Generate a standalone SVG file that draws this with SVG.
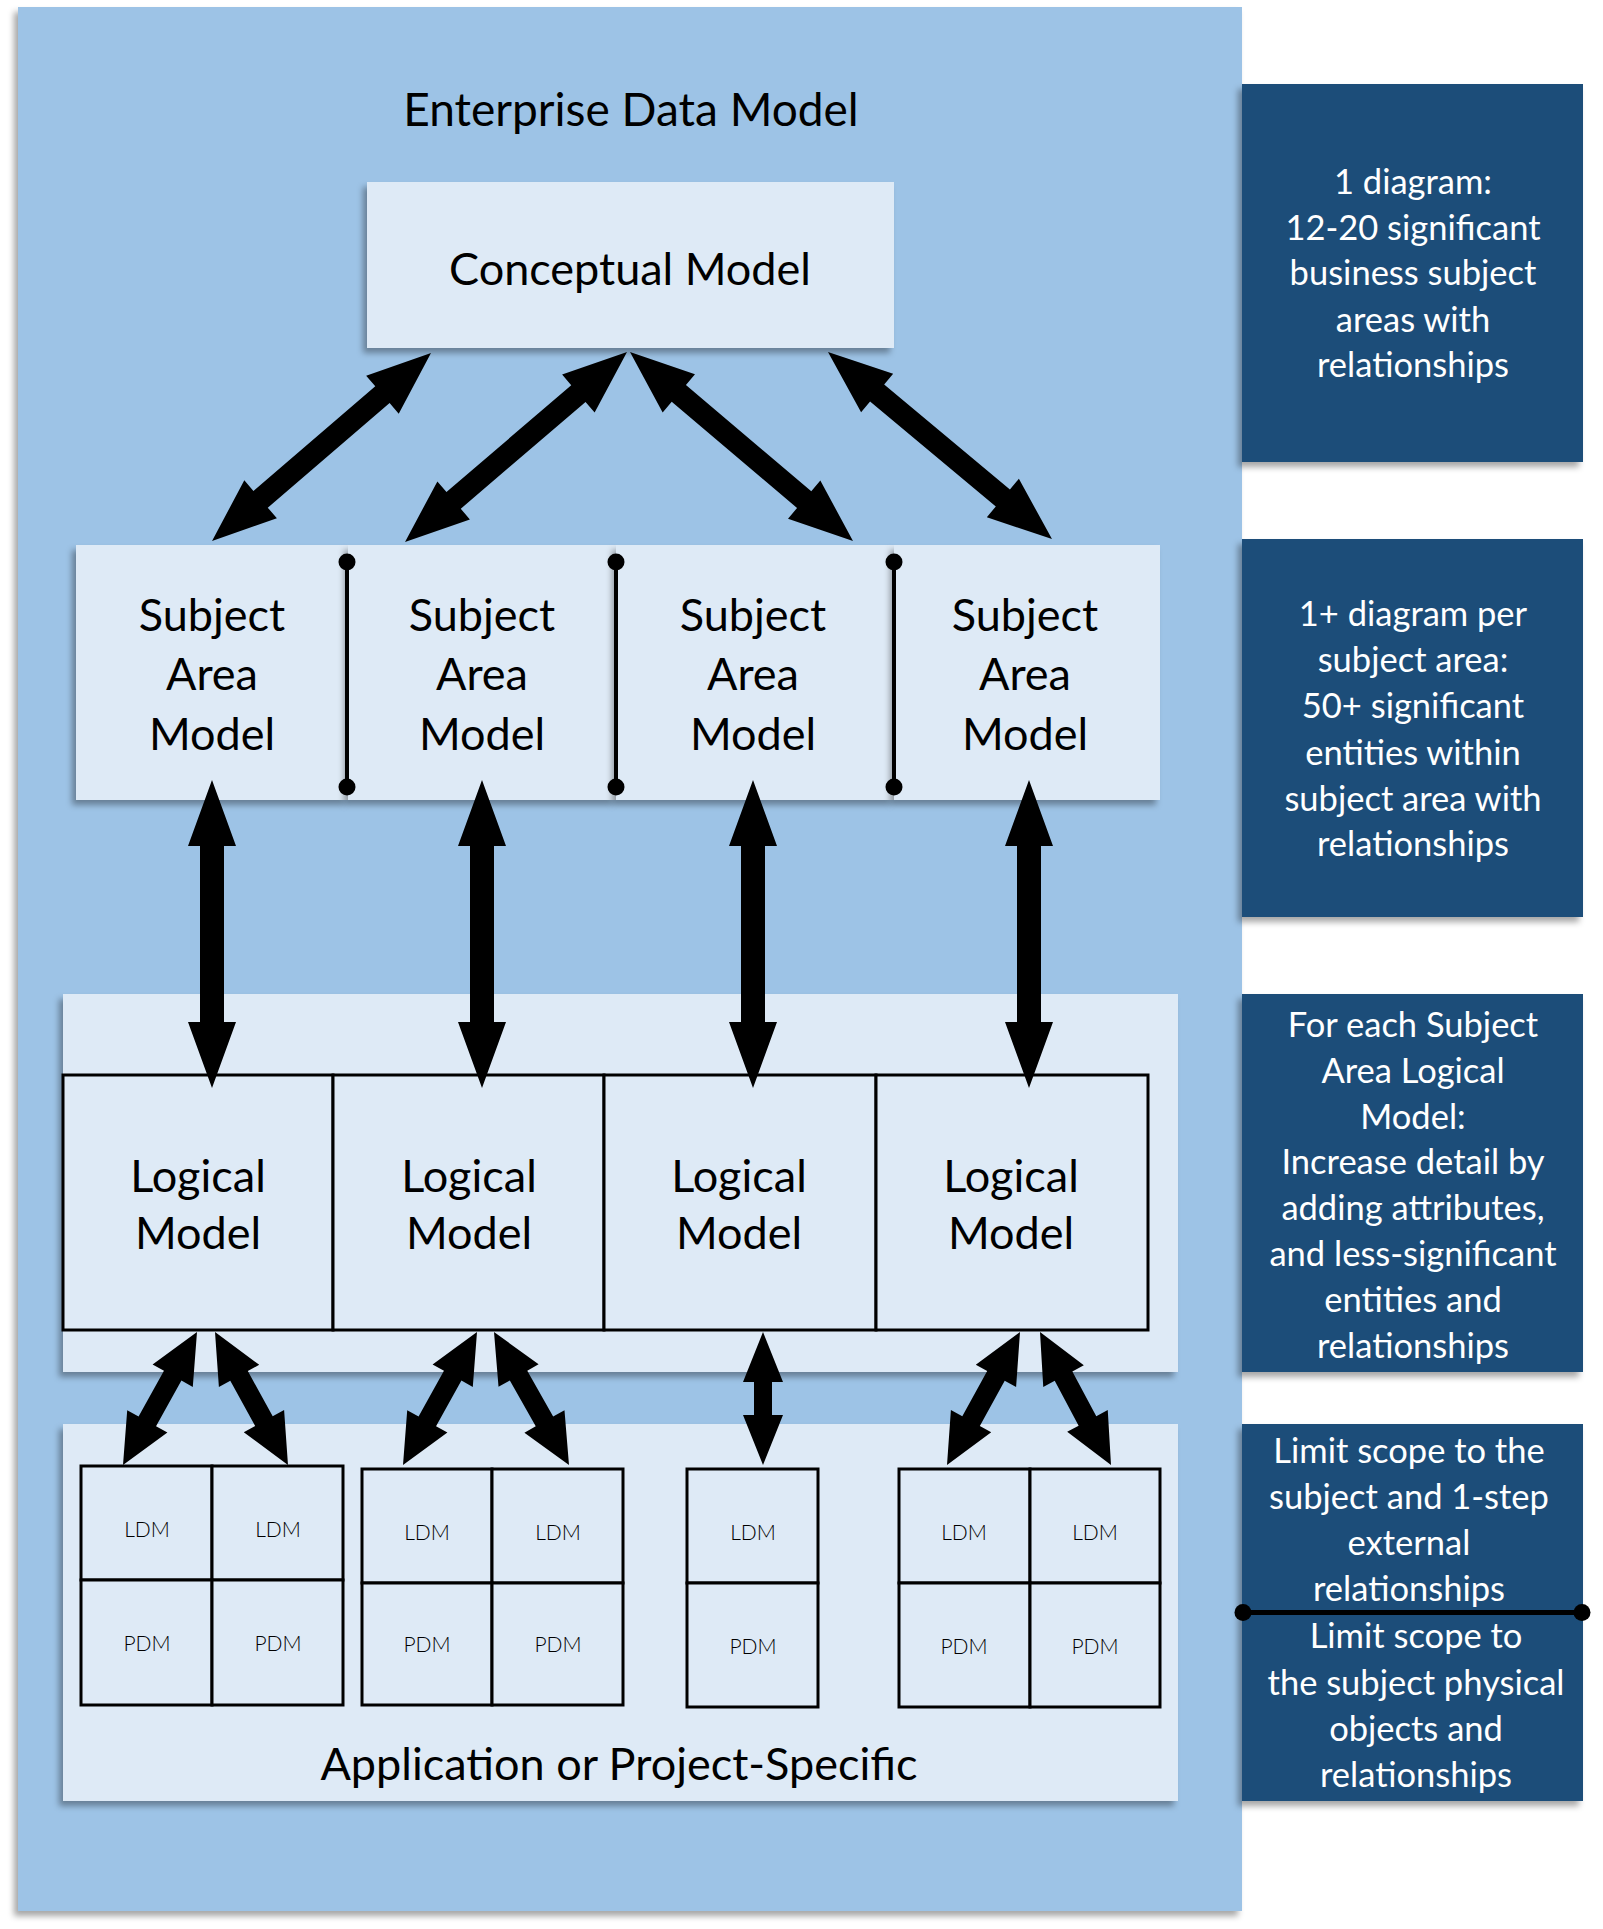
<svg xmlns="http://www.w3.org/2000/svg" width="1603" height="1929" viewBox="0 0 1603 1929">
<defs>
<filter id="sh" x="-10%" y="-10%" width="125%" height="130%">
<feDropShadow dx="-4" dy="5" stdDeviation="3" flood-color="#000" flood-opacity="0.35"/>
</filter>
<style>
.panel{fill:#9DC3E6}
.light{fill:#DEEAF6}
.box{fill:#DEEAF6;stroke:#000;stroke-width:3}
.note{fill:#1F4E79}
.t{font-family:Lato,"Liberation Sans",sans-serif;fill:#000;text-anchor:middle}
.big{font-size:46px}
.mid{font-size:45px}
.w{font-family:Lato,"Liberation Sans",sans-serif;fill:#fff;text-anchor:middle;font-size:34.5px}
.sm{font-family:Lato,"Liberation Sans",sans-serif;fill:#000;text-anchor:middle;font-size:21px;font-weight:300}
.div{stroke:#000;stroke-width:4}
.arr{fill:#000}
</style>
</defs>
<rect width="1603" height="1929" fill="#fff"/>

<g id="enterprise-panel">
<rect class="panel" x="18" y="7" width="1224" height="1904" filter="url(#sh)"/>
<text class="t big" x="631" y="126">Enterprise Data Model</text>
</g>

<g id="node-conceptual">
<rect class="light" x="367" y="182" width="527" height="166" filter="url(#sh)"/>
<text class="t" x="630" y="285" font-size="45">Conceptual Model</text>
</g>

<g id="node-subject-1">
<rect class="light" x="76" y="545" width="272" height="255" filter="url(#sh)"/>
<text class="t mid" x="212" y="631">Subject</text>
<text class="t mid" x="212" y="690">Area</text>
<text class="t mid" x="212" y="750">Model</text>
</g>
<g id="node-subject-2">
<rect class="light" x="348" y="545" width="268" height="255" filter="url(#sh)"/>
<text class="t mid" x="482" y="631">Subject</text>
<text class="t mid" x="482" y="690">Area</text>
<text class="t mid" x="482" y="750">Model</text>
</g>
<g id="node-subject-3">
<rect class="light" x="616" y="545" width="278" height="255" filter="url(#sh)"/>
<text class="t mid" x="753" y="631">Subject</text>
<text class="t mid" x="753" y="690">Area</text>
<text class="t mid" x="753" y="750">Model</text>
</g>
<g id="node-subject-4">
<rect class="light" x="894" y="545" width="266" height="255" filter="url(#sh)"/>
<text class="t mid" x="1025" y="631">Subject</text>
<text class="t mid" x="1025" y="690">Area</text>
<text class="t mid" x="1025" y="750">Model</text>
</g>
<g id="subject-dividers">
<line class="div" x1="347" y1="562" x2="347" y2="787"/>
<circle cx="347" cy="562" r="8.5"/><circle cx="347" cy="787" r="8.5"/>
<line class="div" x1="616" y1="562" x2="616" y2="787"/>
<circle cx="616" cy="562" r="8.5"/><circle cx="616" cy="787" r="8.5"/>
<line class="div" x1="894" y1="562" x2="894" y2="787"/>
<circle cx="894" cy="562" r="8.5"/><circle cx="894" cy="787" r="8.5"/>
</g>

<g id="logical-panel">
<rect class="light" x="63" y="994" width="1115" height="378" filter="url(#sh)"/>
</g>
<g id="node-logical-1">
<rect class="box" x="63" y="1075" width="270" height="255"/>
<text class="t mid" x="198" y="1192">Logical</text>
<text class="t mid" x="198" y="1249">Model</text>
</g>
<g id="node-logical-2">
<rect class="box" x="333" y="1075" width="271" height="255"/>
<text class="t mid" x="469" y="1192">Logical</text>
<text class="t mid" x="469" y="1249">Model</text>
</g>
<g id="node-logical-3">
<rect class="box" x="604" y="1075" width="272" height="255"/>
<text class="t mid" x="739" y="1192">Logical</text>
<text class="t mid" x="739" y="1249">Model</text>
</g>
<g id="node-logical-4">
<rect class="box" x="876" y="1075" width="272" height="255"/>
<text class="t mid" x="1011" y="1192">Logical</text>
<text class="t mid" x="1011" y="1249">Model</text>
</g>

<g id="application-panel">
<rect class="light" x="63" y="1424" width="1115" height="377" filter="url(#sh)"/>
<text class="t mid" x="619" y="1780">Application or Project-Specific</text>
</g>

<g id="grid-1">
<rect class="box" x="81" y="1466" width="131" height="114"/>
<rect class="box" x="212" y="1466" width="131" height="114"/>
<rect class="box" x="81" y="1580" width="131" height="125"/>
<rect class="box" x="212" y="1580" width="131" height="125"/>
<text class="sm" x="147" y="1537">LDM</text>
<text class="sm" x="278" y="1537">LDM</text>
<text class="sm" x="147" y="1651">PDM</text>
<text class="sm" x="278" y="1651">PDM</text>
</g>
<g id="grid-2">
<rect class="box" x="362" y="1469" width="130" height="114"/>
<rect class="box" x="492" y="1469" width="131" height="114"/>
<rect class="box" x="362" y="1583" width="130" height="122"/>
<rect class="box" x="492" y="1583" width="131" height="122"/>
<text class="sm" x="427" y="1540">LDM</text>
<text class="sm" x="558" y="1540">LDM</text>
<text class="sm" x="427" y="1652">PDM</text>
<text class="sm" x="558" y="1652">PDM</text>
</g>
<g id="grid-3">
<rect class="box" x="687" y="1469" width="131" height="114"/>
<rect class="box" x="687" y="1583" width="131" height="124"/>
<text class="sm" x="753" y="1540">LDM</text>
<text class="sm" x="753" y="1654">PDM</text>
</g>
<g id="grid-4">
<rect class="box" x="899" y="1469" width="131" height="114"/>
<rect class="box" x="1030" y="1469" width="130" height="114"/>
<rect class="box" x="899" y="1583" width="131" height="124"/>
<rect class="box" x="1030" y="1583" width="130" height="124"/>
<text class="sm" x="964" y="1540">LDM</text>
<text class="sm" x="1095" y="1540">LDM</text>
<text class="sm" x="964" y="1654">PDM</text>
<text class="sm" x="1095" y="1654">PDM</text>
</g>

<g id="note-1">
<rect class="note" x="1242" y="84" width="341" height="378" filter="url(#sh)"/>
<text class="w" x="1413" y="194">1 diagram:</text>
<text class="w" x="1413" y="240">12-20 significant</text>
<text class="w" x="1413" y="285">business subject</text>
<text class="w" x="1413" y="332">areas with</text>
<text class="w" x="1413" y="377">relationships</text>
</g>
<g id="note-2">
<rect class="note" x="1242" y="539" width="341" height="378" filter="url(#sh)"/>
<text class="w" x="1413" y="626">1+ diagram per</text>
<text class="w" x="1413" y="672">subject area:</text>
<text class="w" x="1413" y="718">50+ significant</text>
<text class="w" x="1413" y="765">entities within</text>
<text class="w" x="1413" y="811">subject area with</text>
<text class="w" x="1413" y="856">relationships</text>
</g>
<g id="note-3">
<rect class="note" x="1242" y="994" width="341" height="378" filter="url(#sh)"/>
<text class="w" x="1413" y="1037">For each Subject</text>
<text class="w" x="1413" y="1083">Area Logical</text>
<text class="w" x="1413" y="1129">Model:</text>
<text class="w" x="1413" y="1174">Increase detail by</text>
<text class="w" x="1413" y="1220">adding attributes,</text>
<text class="w" x="1413" y="1266">and less-significant</text>
<text class="w" x="1413" y="1312">entities and</text>
<text class="w" x="1413" y="1358">relationships</text>
</g>
<g id="note-4">
<rect class="note" x="1242" y="1424" width="341" height="377" filter="url(#sh)"/>
<text class="w" x="1409" y="1463">Limit scope to the</text>
<text class="w" x="1409" y="1509">subject and 1-step</text>
<text class="w" x="1409" y="1555">external</text>
<text class="w" x="1409" y="1601">relationships</text>
<line x1="1243" y1="1612.5" x2="1583" y2="1612.5" stroke="#000" stroke-width="5"/>
<circle cx="1243" cy="1612.5" r="8.5"/><circle cx="1582" cy="1612.5" r="8.5"/>
<text class="w" x="1416" y="1648">Limit scope to</text>
<text class="w" x="1416" y="1695">the subject physical</text>
<text class="w" x="1416" y="1741">objects and</text>
<text class="w" x="1416" y="1787">relationships</text>
</g>

<g id="connectors">
<path class="arr" transform="translate(431,353) rotate(139.35)" d="M0,0 L64,-25 L64,-11 L224.6,-11 L224.6,-25 L288.6,0 L224.6,25 L224.6,11 L64,11 L64,25 Z"/>
<path class="arr" transform="translate(627,352) rotate(139.44)" d="M0,0 L64,-25 L64,-11 L228.2,-11 L228.2,-25 L292.2,0 L228.2,25 L228.2,11 L64,11 L64,25 Z"/>
<path class="arr" transform="translate(630,352) rotate(40.28)" d="M0,0 L64,-25 L64,-11 L228.3,-11 L228.3,-25 L292.3,0 L228.3,25 L228.3,11 L64,11 L64,25 Z"/>
<path class="arr" transform="translate(828,352) rotate(39.86)" d="M0,0 L64,-25 L64,-11 L227.8,-11 L227.8,-25 L291.8,0 L227.8,25 L227.8,11 L64,11 L64,25 Z"/>

<path class="arr" transform="translate(212,780) rotate(90)" d="M0,0 L66,-24 L66,-12 L242,-12 L242,-24 L308,0 L242,24 L242,12 L66,12 L66,24 Z"/>
<path class="arr" transform="translate(482,780) rotate(90)" d="M0,0 L66,-24 L66,-12 L242,-12 L242,-24 L308,0 L242,24 L242,12 L66,12 L66,24 Z"/>
<path class="arr" transform="translate(753,780) rotate(90)" d="M0,0 L66,-24 L66,-12 L242,-12 L242,-24 L308,0 L242,24 L242,12 L66,12 L66,24 Z"/>
<path class="arr" transform="translate(1029,780) rotate(90)" d="M0,0 L66,-24 L66,-12 L242,-12 L242,-24 L308,0 L242,24 L242,12 L66,12 L66,24 Z"/>

<path class="arr" transform="translate(197,1332) rotate(119.09)" d="M0,0 L50,-23 L50,-10 L102.2,-10 L102.2,-23 L152.2,0 L102.2,23 L102.2,10 L50,10 L50,23 Z"/>
<path class="arr" transform="translate(215,1332) rotate(61.24)" d="M0,0 L50,-23 L50,-10 L101.7,-10 L101.7,-23 L151.7,0 L101.7,23 L101.7,10 L50,10 L50,23 Z"/>
<path class="arr" transform="translate(477,1332) rotate(119.09)" d="M0,0 L50,-23 L50,-10 L102.2,-10 L102.2,-23 L152.2,0 L102.2,23 L102.2,10 L50,10 L50,23 Z"/>
<path class="arr" transform="translate(494,1332) rotate(60.58)" d="M0,0 L50,-23 L50,-10 L102.7,-10 L102.7,-23 L152.7,0 L102.7,23 L102.7,10 L50,10 L50,23 Z"/>
<path class="arr" transform="translate(763,1332) rotate(90)" d="M0,0 L50,-20 L50,-9 L83,-9 L83,-20 L133,0 L83,20 L83,9 L50,9 L50,20 Z"/>
<path class="arr" transform="translate(1020,1332) rotate(118.76)" d="M0,0 L50,-23 L50,-10 L101.7,-10 L101.7,-23 L151.7,0 L101.7,23 L101.7,10 L50,10 L50,23 Z"/>
<path class="arr" transform="translate(1040,1332) rotate(61.91)" d="M0,0 L50,-23 L50,-10 L100.8,-10 L100.8,-23 L150.8,0 L100.8,23 L100.8,10 L50,10 L50,23 Z"/>
</g>
</svg>
